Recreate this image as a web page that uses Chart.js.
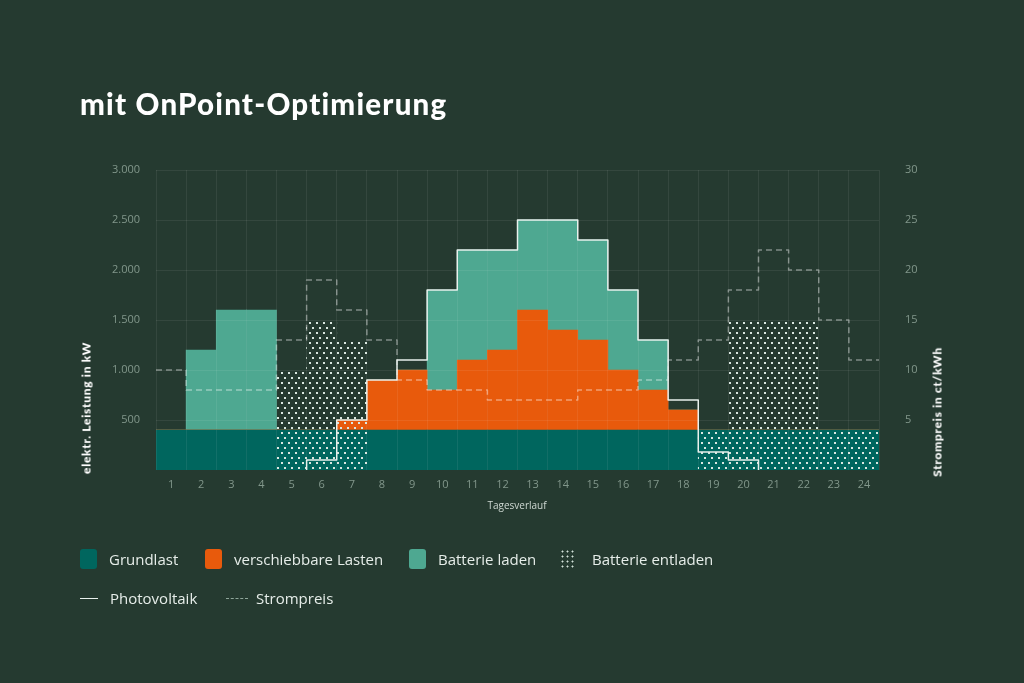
<!DOCTYPE html>
<html lang="de">
<head>
<meta charset="utf-8">
<title>mit OnPoint-Optimierung</title>
<script src="https://cdn.jsdelivr.net/npm/chart.js@4.4.1/dist/chart.umd.min.js"></script>
<style>
	html, body {
		margin: 0;
		padding: 0;
		background: #253a30;
	}
	body {
		position: relative;
		width: 1024px;
		height: 683px;
		overflow: hidden;
		font-family: 'Open Sans', sans-serif;
		color: #e3ebe6;
	}
	#chart {
		position: absolute;
		left: 0;
		top: 0;
	}
	h1 {
		position: absolute;
		left: 80px;
		top: 86px;
		margin: 0;
		font-family: Lato, sans-serif;
		font-weight: 900;
		font-size: 29.5px;
		color: #ffffff;
		letter-spacing: 1.2px;
	}
	.axis-title {
		position: absolute;
		font-family: Lato, sans-serif;
		font-weight: 900;
		font-size: 12px;
		letter-spacing: 0.7px;
		color: #ffffff;
		white-space: nowrap;
		transform: translate(-50%, -50%) rotate(-90deg);
	}
	#xTitle {
		position: absolute;
		left: 517px;
		top: 505px;
		transform: translate(-50%, -50%);
		font-size: 10px;
		color: #cfd9d3;
	}
	.legend-item {
		position: absolute;
		display: flex;
		align-items: center;
		font-size: 15px;
		color: #e6ede9;
	}
	.swatch {
		width: 17px;
		height: 20px;
		border-radius: 3px;
		margin-right: 12px;
	}
	.dots {
		width: 14px;
		height: 20px;
		margin-right: 18px;
		background-image: radial-gradient(circle, #d3e2da 0.8px, transparent 1.2px);
		background-size: 5px 5px;
	}
	.line-solid, .line-dash {
		width: 18px;
		height: 0;
		margin-right: 12px;
		border-top: 1.5px solid #e8f0ec;
	}
	.line-dash {
		width: 22px;
		margin-right: 8px;
		border-top: 1.5px dashed #8fa69a;
	}
</style>
</head>
<body>
<canvas id="chart" width="1024" height="683"></canvas>
<h1>mit OnPoint-Optimierung</h1>
<div class="axis-title" style="left:86px; top:408px;">elektr. Leistung in kW</div>
<div class="axis-title" style="left:937px; top:412px;">Strompreis in ct/kWh</div>
<div id="xTitle">Tagesverlauf</div>

<div class="legend-item" style="left:80px; top:549px;"><span class="swatch" style="background:#00665e"></span>Grundlast</div>
<div class="legend-item" style="left:205px; top:549px;"><span class="swatch" style="background:#e85a0c"></span>verschiebbare Lasten</div>
<div class="legend-item" style="left:409px; top:549px;"><span class="swatch" style="background:#4ea891"></span>Batterie laden</div>
<div class="legend-item" style="left:560px; top:549px;"><span class="dots"></span>Batterie entladen</div>
<div class="legend-item" style="left:80px; top:588px;"><span class="line-solid"></span>Photovoltaik</div>
<div class="legend-item" style="left:226px; top:588px;"><span class="line-dash"></span>Strompreis</div>

<script>
const hours = ['1', '2', '3', '4', '5', '6', '7', '8', '9', '10', '11', '12',
	'13', '14', '15', '16', '17', '18', '19', '20', '21', '22', '23', '24'];

// kW
const grundlast = [400, 400, 400, 400, 400, 400, 400, 400, 400, 400, 400, 400,
	400, 400, 400, 400, 400, 400, 400, 400, 400, 400, 400, 400];
const verschiebbareLasten = [0, 0, 0, 0, 0, 0, 100, 500, 600, 400, 700, 800,
	1200, 1000, 900, 600, 400, 200, 0, 0, 0, 0, 0, 0];
const batterieLaden = [0, 800, 1200, 1200, 0, 0, 0, 0, 0, 1000, 1100, 1000,
	900, 1100, 1000, 800, 500, 0, 0, 0, 0, 0, 0, 0];
const batterieEntladen = [0, 0, 0, 0, 1000, 1500, 1300, 0, 0, 0, 0, 0,
	0, 0, 0, 0, 0, 0, 400, 1500, 1500, 1500, 400, 400];
const photovoltaik = [0, 0, 0, 0, 0, 100, 500, 900, 1100, 1800, 2200, 2200,
	2500, 2500, 2300, 1800, 1300, 700, 180, 100, 0, 0, 0, 0];

// ct/kWh
const strompreis = [10, 8, 8, 8, 13, 19, 16, 13, 9, 8, 8, 7,
	7, 7, 8, 8, 9, 11, 13, 18, 22, 20, 15, 11];

const leftTicks = [500, 1000, 1500, 2000, 2500, 3000];
const rightTicks = [5, 10, 15, 20, 25, 30];

// each hour becomes a flat step from its left to its right edge
const steps = values => values.flatMap((v, i) => [{ x: i + 0.5, y: v }, { x: i + 1.5, y: v }]);

function dotPattern() {
	const c = document.createElement('canvas');
	c.width = 7;
	c.height = 10;
	const g = c.getContext('2d');
	g.fillStyle = '#dbe8e1';
	g.fillRect(1, 2, 2, 2);
	g.fillRect(4, 7, 2, 2);
	return g.createPattern(c, 'repeat');
}

const gridColor = 'rgba(255, 255, 255, 0.07)';
const tickColor = '#82978b';
const tickFont = { family: "'Open Sans', sans-serif", size: 11 };

const ctx = document.getElementById('chart').getContext('2d');

new Chart(ctx, {
	type: 'bar',
	data: {
		labels: hours,
		datasets: [
			{
				type: 'line',
				label: 'Photovoltaik',
				data: steps(photovoltaik),
				xAxisID: 'xl',
				yAxisID: 'y',
				stack: 'pv',
				borderColor: '#e8f0ec',
				borderWidth: 1.5,
				borderJoinStyle: 'round',
				pointRadius: 0,
				segment: {
					borderColor: s => (s.p0.parsed.y === 0 && s.p1.parsed.y === 0 ? 'transparent' : undefined),
				},
				order: 0,
			},
			{
				type: 'line',
				label: 'Strompreis',
				data: steps(strompreis),
				xAxisID: 'xl',
				yAxisID: 'y1',
				borderColor: 'rgba(255, 255, 255, 0.42)',
				borderWidth: 1.5,
				borderDash: [6, 4],
				borderJoinStyle: 'round',
				pointRadius: 0,
				order: 0,
			},
			{
				label: 'Batterie entladen',
				data: batterieEntladen,
				stack: 'entladen',
				backgroundColor: dotPattern(),
				order: 1,
			},
			{
				label: 'Grundlast',
				data: grundlast,
				stack: 'last',
				backgroundColor: '#00665e',
				order: 2,
			},
			{
				label: 'verschiebbare Lasten',
				data: verschiebbareLasten,
				stack: 'last',
				backgroundColor: '#e85a0c',
				order: 2,
			},
			{
				label: 'Batterie laden',
				data: batterieLaden,
				stack: 'last',
				backgroundColor: '#4ea891',
				order: 2,
			},
		],
	},
	options: {
		responsive: false,
		animation: false,
		layout: {
			padding: { top: 170, left: 0, right: 0, bottom: 0 },
		},
		datasets: {
			bar: {
				grouped: false,
				barPercentage: 1,
				categoryPercentage: 1,
				borderWidth: 0,
			},
		},
		scales: {
			x: {
				stacked: true,
				offset: true,
				grid: { color: gridColor, drawTicks: false, offset: true, z: 1 },
				border: { display: false },
				ticks: { color: tickColor, font: tickFont, padding: 8 },
				afterFit: s => { s.height = 213; },
			},
			xl: {
				type: 'linear',
				display: false,
				offset: false,
				min: 0.5,
				max: 24.5,
			},
			y: {
				stacked: true,
				min: 0,
				max: 3000,
				afterBuildTicks: s => { s.ticks = leftTicks.map(v => ({ value: v })); },
				grid: { color: gridColor, drawTicks: false, z: 1 },
				border: { display: false },
				ticks: {
					color: tickColor,
					font: tickFont,
					padding: 16,
					callback: v => v.toLocaleString('de-DE'),
				},
				afterFit: s => { s.width = 156; },
			},
			y1: {
				position: 'right',
				min: 0,
				max: 30,
				afterBuildTicks: s => { s.ticks = rightTicks.map(v => ({ value: v })); },
				grid: { display: false },
				border: { display: false },
				ticks: { color: tickColor, font: tickFont, padding: 18 },
				afterFit: s => { s.width = 145; },
			},
		},
		plugins: {
			legend: { display: false },
			tooltip: { enabled: false },
		},
	},
});
</script>
</body>
</html>
